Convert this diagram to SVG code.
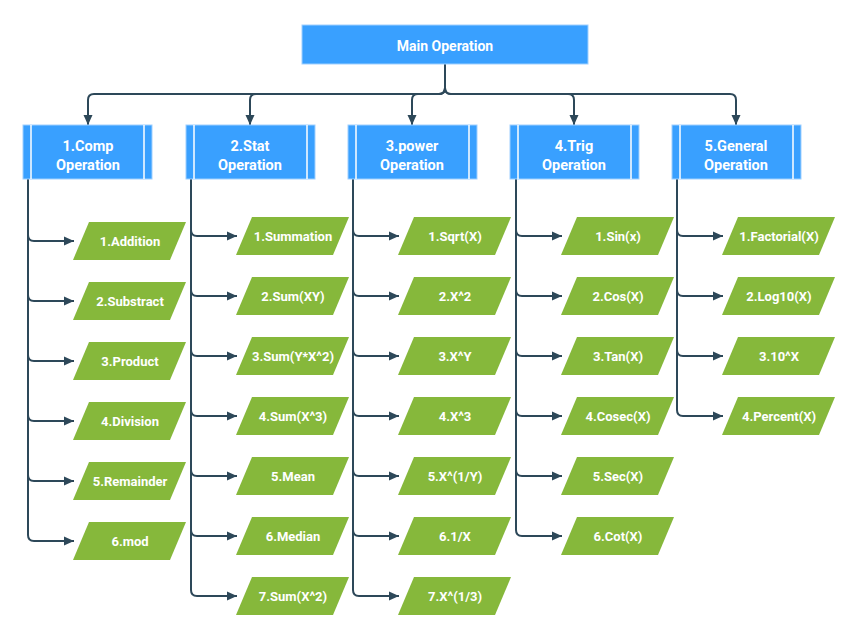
<svg xmlns="http://www.w3.org/2000/svg" width="866" height="643" viewBox="0 0 866 643">
<style>
.bg{fill:#ffffff}
.main{fill:#39A0FF;stroke:#9FD0FF;stroke-width:1}
.cat{fill:#39A0FF;stroke:#9FD0FF;stroke-width:1}
.bar{stroke:#ffffff;stroke-width:1.5}
.leaf{fill:#86B83B}
.conn{fill:none;stroke:#2D4859;stroke-width:2}
text{font-family:Roboto,"Liberation Sans",sans-serif;font-weight:bold;fill:#ffffff;text-anchor:middle;dominant-baseline:central}
.t14{font-size:14px}
.t15{font-size:14.5px}
.t13{font-size:13px}
</style>
<defs>
<marker id="arr" markerUnits="userSpaceOnUse" markerWidth="11" markerHeight="10" refX="10" refY="5" orient="auto">
<path d="M0,0.5 L10,5 L0,9.5 z" fill="#2D4859"/>
</marker>
</defs>
<rect class="bg" x="0" y="0" width="866" height="643"/>

<g id="connectors">
<path class="conn" marker-end="url(#arr)" d="M445,64 V88 Q445,94 439,94 H94 Q88,94 88,100 V125"/>
<path class="conn" marker-end="url(#arr)" d="M445,64 V88 Q445,94 439,94 H256 Q250,94 250,100 V125"/>
<path class="conn" marker-end="url(#arr)" d="M445,64 V88 Q445,94 439,94 H418 Q412,94 412,100 V125"/>
<path class="conn" marker-end="url(#arr)" d="M445,64 V88 Q445,94 451,94 H568 Q574,94 574,100 V125"/>
<path class="conn" marker-end="url(#arr)" d="M445,64 V88 Q445,94 451,94 H730 Q736,94 736,100 V125"/>

<path class="conn" marker-end="url(#arr)" d="M28,179 V235 Q28,241 34,241 H74"/>
<path class="conn" marker-end="url(#arr)" d="M28,179 V295 Q28,301 34,301 H74"/>
<path class="conn" marker-end="url(#arr)" d="M28,179 V355 Q28,361 34,361 H74"/>
<path class="conn" marker-end="url(#arr)" d="M28,179 V415 Q28,421 34,421 H74"/>
<path class="conn" marker-end="url(#arr)" d="M28,179 V475 Q28,481 34,481 H74"/>
<path class="conn" marker-end="url(#arr)" d="M28,179 V535 Q28,541 34,541 H74"/>

<path class="conn" marker-end="url(#arr)" d="M191,179 V230 Q191,236 197,236 H237"/>
<path class="conn" marker-end="url(#arr)" d="M191,179 V290 Q191,296 197,296 H237"/>
<path class="conn" marker-end="url(#arr)" d="M191,179 V350 Q191,356 197,356 H237"/>
<path class="conn" marker-end="url(#arr)" d="M191,179 V410 Q191,416 197,416 H237"/>
<path class="conn" marker-end="url(#arr)" d="M191,179 V470 Q191,476 197,476 H237"/>
<path class="conn" marker-end="url(#arr)" d="M191,179 V530 Q191,536 197,536 H237"/>
<path class="conn" marker-end="url(#arr)" d="M191,179 V590 Q191,596 197,596 H237"/>

<path class="conn" marker-end="url(#arr)" d="M353,179 V230 Q353,236 359,236 H399"/>
<path class="conn" marker-end="url(#arr)" d="M353,179 V290 Q353,296 359,296 H399"/>
<path class="conn" marker-end="url(#arr)" d="M353,179 V350 Q353,356 359,356 H399"/>
<path class="conn" marker-end="url(#arr)" d="M353,179 V410 Q353,416 359,416 H399"/>
<path class="conn" marker-end="url(#arr)" d="M353,179 V470 Q353,476 359,476 H399"/>
<path class="conn" marker-end="url(#arr)" d="M353,179 V530 Q353,536 359,536 H399"/>
<path class="conn" marker-end="url(#arr)" d="M353,179 V590 Q353,596 359,596 H399"/>

<path class="conn" marker-end="url(#arr)" d="M516,179 V230 Q516,236 522,236 H562"/>
<path class="conn" marker-end="url(#arr)" d="M516,179 V290 Q516,296 522,296 H562"/>
<path class="conn" marker-end="url(#arr)" d="M516,179 V350 Q516,356 522,356 H562"/>
<path class="conn" marker-end="url(#arr)" d="M516,179 V410 Q516,416 522,416 H562"/>
<path class="conn" marker-end="url(#arr)" d="M516,179 V470 Q516,476 522,476 H562"/>
<path class="conn" marker-end="url(#arr)" d="M516,179 V530 Q516,536 522,536 H562"/>

<path class="conn" marker-end="url(#arr)" d="M677,179 V230 Q677,236 683,236 H723"/>
<path class="conn" marker-end="url(#arr)" d="M677,179 V290 Q677,296 683,296 H723"/>
<path class="conn" marker-end="url(#arr)" d="M677,179 V350 Q677,356 683,356 H723"/>
<path class="conn" marker-end="url(#arr)" d="M677,179 V410 Q677,416 683,416 H723"/>
</g>

<g id="main">
<rect class="main" x="302" y="25" width="286" height="39"/>
<text class="t14" x="445" y="46">Main Operation</text>
</g>

<g id="cat1">
<rect class="cat" x="23" y="125" width="129" height="54"/>
<line class="bar" x1="31" y1="125" x2="31" y2="179"/><line class="bar" x1="144" y1="125" x2="144" y2="179"/>
<text class="t15" x="88" y="146">1.Comp</text><text class="t15" x="88" y="165">Operation</text>
</g>
<g id="cat2">
<rect class="cat" x="186" y="125" width="129" height="54"/>
<line class="bar" x1="194" y1="125" x2="194" y2="179"/><line class="bar" x1="307" y1="125" x2="307" y2="179"/>
<text class="t15" x="250" y="146">2.Stat</text><text class="t15" x="250" y="165">Operation</text>
</g>
<g id="cat3">
<rect class="cat" x="348" y="125" width="129" height="54"/>
<line class="bar" x1="356" y1="125" x2="356" y2="179"/><line class="bar" x1="469" y1="125" x2="469" y2="179"/>
<text class="t15" x="412" y="146">3.power</text><text class="t15" x="412" y="165">Operation</text>
</g>
<g id="cat4">
<rect class="cat" x="510" y="125" width="129" height="54"/>
<line class="bar" x1="518" y1="125" x2="518" y2="179"/><line class="bar" x1="631" y1="125" x2="631" y2="179"/>
<text class="t15" x="574" y="146">4.Trig</text><text class="t15" x="574" y="165">Operation</text>
</g>
<g id="cat5">
<rect class="cat" x="672" y="125" width="129" height="54"/>
<line class="bar" x1="680" y1="125" x2="680" y2="179"/><line class="bar" x1="793" y1="125" x2="793" y2="179"/>
<text class="t15" x="736" y="146">5.General</text><text class="t15" x="736" y="165">Operation</text>
</g>

<g id="c1-1"><polygon class="leaf" points="89,222 186,222 170,260 73,260"/><text class="t13" x="130" y="241">1.Addition</text></g>
<g id="c1-2"><polygon class="leaf" points="89,282 186,282 170,320 73,320"/><text class="t13" x="130" y="301">2.Substract</text></g>
<g id="c1-3"><polygon class="leaf" points="89,342 186,342 170,380 73,380"/><text class="t13" x="130" y="361">3.Product</text></g>
<g id="c1-4"><polygon class="leaf" points="89,402 186,402 170,440 73,440"/><text class="t13" x="130" y="421">4.Division</text></g>
<g id="c1-5"><polygon class="leaf" points="89,462 186,462 170,500 73,500"/><text class="t13" x="130" y="481">5.Remainder</text></g>
<g id="c1-6"><polygon class="leaf" points="89,522 186,522 170,560 73,560"/><text class="t13" x="130" y="541">6.mod</text></g>

<g id="c2-1"><polygon class="leaf" points="252,217 349,217 333,255 236,255"/><text class="t13" x="293" y="236">1.Summation</text></g>
<g id="c2-2"><polygon class="leaf" points="252,277 349,277 333,315 236,315"/><text class="t13" x="293" y="296">2.Sum(XY)</text></g>
<g id="c2-3"><polygon class="leaf" points="252,337 349,337 333,375 236,375"/><text class="t13" x="293" y="356">3.Sum(Y*X^2)</text></g>
<g id="c2-4"><polygon class="leaf" points="252,397 349,397 333,435 236,435"/><text class="t13" x="293" y="416">4.Sum(X^3)</text></g>
<g id="c2-5"><polygon class="leaf" points="252,457 349,457 333,495 236,495"/><text class="t13" x="293" y="476">5.Mean</text></g>
<g id="c2-6"><polygon class="leaf" points="252,517 349,517 333,555 236,555"/><text class="t13" x="293" y="536">6.Median</text></g>
<g id="c2-7"><polygon class="leaf" points="252,577 349,577 333,615 236,615"/><text class="t13" x="293" y="596">7.Sum(X^2)</text></g>

<g id="c3-1"><polygon class="leaf" points="414,217 511,217 495,255 398,255"/><text class="t13" x="455" y="236">1.Sqrt(X)</text></g>
<g id="c3-2"><polygon class="leaf" points="414,277 511,277 495,315 398,315"/><text class="t13" x="455" y="296">2.X^2</text></g>
<g id="c3-3"><polygon class="leaf" points="414,337 511,337 495,375 398,375"/><text class="t13" x="455" y="356">3.X^Y</text></g>
<g id="c3-4"><polygon class="leaf" points="414,397 511,397 495,435 398,435"/><text class="t13" x="455" y="416">4.X^3</text></g>
<g id="c3-5"><polygon class="leaf" points="414,457 511,457 495,495 398,495"/><text class="t13" x="455" y="476">5.X^(1/Y)</text></g>
<g id="c3-6"><polygon class="leaf" points="414,517 511,517 495,555 398,555"/><text class="t13" x="455" y="536">6.1/X</text></g>
<g id="c3-7"><polygon class="leaf" points="414,577 511,577 495,615 398,615"/><text class="t13" x="455" y="596">7.X^(1/3)</text></g>

<g id="c4-1"><polygon class="leaf" points="577,217 674,217 658,255 561,255"/><text class="t13" x="618" y="236">1.Sin(x)</text></g>
<g id="c4-2"><polygon class="leaf" points="577,277 674,277 658,315 561,315"/><text class="t13" x="618" y="296">2.Cos(X)</text></g>
<g id="c4-3"><polygon class="leaf" points="577,337 674,337 658,375 561,375"/><text class="t13" x="618" y="356">3.Tan(X)</text></g>
<g id="c4-4"><polygon class="leaf" points="577,397 674,397 658,435 561,435"/><text class="t13" x="618" y="416">4.Cosec(X)</text></g>
<g id="c4-5"><polygon class="leaf" points="577,457 674,457 658,495 561,495"/><text class="t13" x="618" y="476">5.Sec(X)</text></g>
<g id="c4-6"><polygon class="leaf" points="577,517 674,517 658,555 561,555"/><text class="t13" x="618" y="536">6.Cot(X)</text></g>

<g id="c5-1"><polygon class="leaf" points="738,217 835,217 819,255 722,255"/><text class="t13" x="779" y="236">1.Factorial(X)</text></g>
<g id="c5-2"><polygon class="leaf" points="738,277 835,277 819,315 722,315"/><text class="t13" x="779" y="296">2.Log10(X)</text></g>
<g id="c5-3"><polygon class="leaf" points="738,337 835,337 819,375 722,375"/><text class="t13" x="779" y="356">3.10^X</text></g>
<g id="c5-4"><polygon class="leaf" points="738,397 835,397 819,435 722,435"/><text class="t13" x="779" y="416">4.Percent(X)</text></g>
</svg>
